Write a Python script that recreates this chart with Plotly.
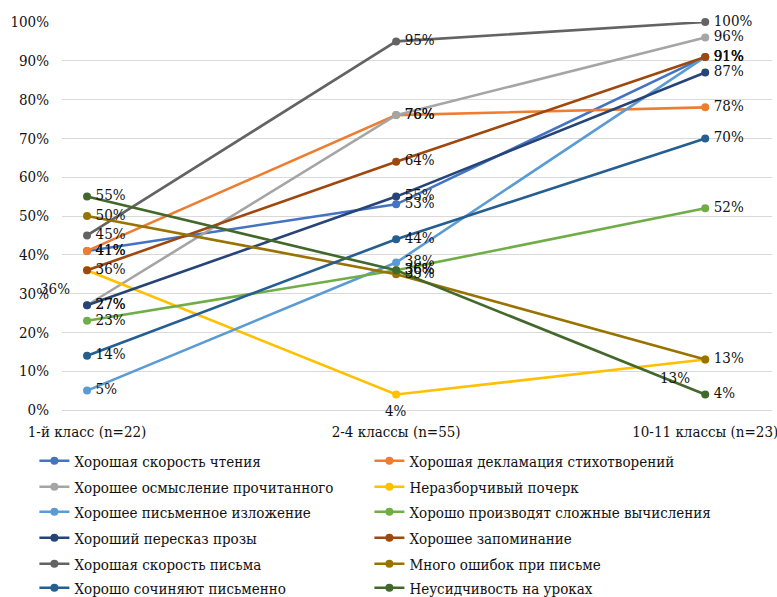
import plotly.graph_objects as go

# Categories (school grades) and the share of pupils showing each trait, in %
grades = ["1-й класс (n=22)", "2-4 классы (n=55)", "10-11 классы (n=23)"]

series_names = [
    "Хорошая скорость чтения",
    "Хорошая декламация стихотворений",
    "Хорошее осмысление прочитанного",
    "Неразборчивый почерк",
    "Хорошее письменное изложение",
    "Хорошо производят сложные вычисления",
    "Хороший пересказ прозы",
    "Хорошее запоминание",
    "Хорошая скорость письма",
    "Много ошибок при письме",
    "Хорошо сочиняют письменно",
    "Неусидчивость на уроках",
]

reading_speed = [41, 53, 91]
recitation = [41, 76, 78]
comprehension = [27, 76, 96]
illegible_handwriting = [36, 4, 13]
written_summary = [5, 38, 91]
calculations = [23, 36, 52]
retelling = [27, 55, 87]
memorization = [36, 64, 91]
writing_speed = [45, 95, 100]
spelling_errors = [50, 35, 13]
composition = [14, 44, 70]
restlessness = [55, 36, 4]

series_values = [
    reading_speed, recitation, comprehension, illegible_handwriting,
    written_summary, calculations, retelling, memorization,
    writing_speed, spelling_errors, composition, restlessness,
]

colors = [
    "#4472C4", "#ED7D31", "#A5A5A5", "#FFC000", "#5B9BD5", "#70AD47",
    "#264478", "#9E480E", "#636363", "#997300", "#255E91", "#43682B",
]

FONT = "DejaVu Serif Condensed, DejaVu Serif, serif"
TEXT_COLOR = "#111111"
NBSP = "\u00a0"


def legend_key(i):
    return "legend" if i == 0 else f"legend{i + 1}"


fig = go.Figure()

# Each series gets its own single-entry legend, laid out as a 2-column grid
for i, (name, vals, col) in enumerate(zip(series_names, series_values, colors)):
    fig.add_trace(go.Scatter(
        x=grades, y=vals, name=name, mode="lines+markers",
        line=dict(color=col, width=2.6),
        marker=dict(color=col, size=8),
        cliponaxis=False,
        legend=legend_key(i),
    ))

# Data labels to the right of the points
for name, vals, col in zip(series_names, series_values, colors):
    if vals is illegible_handwriting:
        continue
    fig.add_trace(go.Scatter(
        x=grades, y=vals, mode="text",
        text=[f"{NBSP}{NBSP}{v}%" for v in vals],
        textposition="middle right",
        textfont=dict(family=FONT, size=15, color=TEXT_COLOR),
        showlegend=False, hoverinfo="skip", cliponaxis=False,
    ))

# Labels of the handwriting series sit below their points
label_shifts = [(-32, -19), (0, -17), (-30, -18)]
for g, v, (dx, dy) in zip(grades, illegible_handwriting, label_shifts):
    fig.add_annotation(
        x=g, y=v, text=f"{v}%", showarrow=False,
        xshift=dx, yshift=dy,
        font=dict(family=FONT, size=15, color=TEXT_COLOR),
    )

PLOT_LEFT, PLOT_W = 62, 710
PLOT_BOTTOM, PLOT_H = 410, 388
row_centers = [461, 487, 512, 538, 564, 588]
col_lefts = [34.4, 369.4]

legend_layout = {}
for i in range(len(series_names)):
    row, col = divmod(i, 2)
    legend_layout[legend_key(i)] = dict(
        orientation="h",
        x=(col_lefts[col] - PLOT_LEFT) / PLOT_W, xanchor="left",
        y=(PLOT_BOTTOM - row_centers[row]) / PLOT_H, yanchor="middle",
        font=dict(family=FONT, size=15, color=TEXT_COLOR),
        itemwidth=30,
        bgcolor="rgba(0,0,0,0)",
    )

fig.update_layout(
    width=777, height=597,
    margin=dict(l=PLOT_LEFT, r=5, t=22, b=187, autoexpand=False),
    paper_bgcolor="white", plot_bgcolor="white",
    font=dict(family=FONT, size=15, color=TEXT_COLOR),
    showlegend=True,
    xaxis=dict(
        type="category",
        range=[-0.081, 2.216],
        showgrid=False, zeroline=False,
        showline=True, linecolor="#d9d9d9", linewidth=1,
        ticks="", ticklabelstandoff=8,
        tickfont=dict(family=FONT, size=15, color=TEXT_COLOR),
    ),
    yaxis=dict(
        range=[0, 100],
        dtick=10, ticksuffix="%",
        showgrid=True, gridcolor="#d9d9d9", gridwidth=1,
        zeroline=False, showline=False, ticks="",
        ticklabelstandoff=12,
        tickfont=dict(family=FONT, size=15, color=TEXT_COLOR),
    ),
    **legend_layout,
)

fig.write_html("out.html")
